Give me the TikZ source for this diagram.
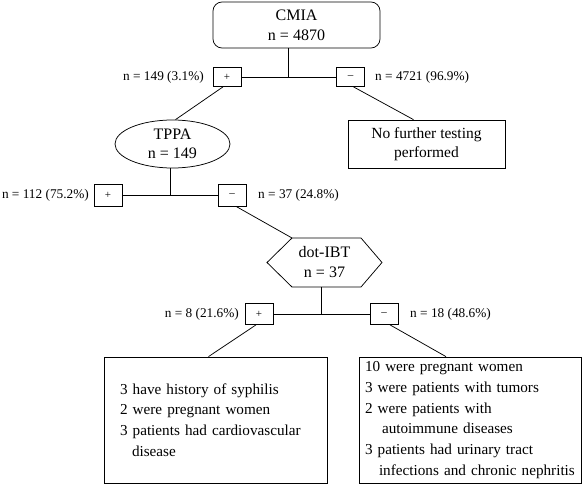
\documentclass[tikz,border=0pt]{standalone}
\usepackage{fontspec}
\setmainfont{Liberation Serif}
\usetikzlibrary{shapes.geometric,calc}
\begin{document}
\begin{tikzpicture}[x=1pt,y=-1pt,
  ln/.style={line width=0.75pt, draw=black},
  title/.style={font=\fontsize{16}{20}\selectfont, align=center, draw, line width=0.75pt, inner sep=0pt},
  sgn/.style={draw, line width=0.75pt, minimum width=28pt, minimum height=21pt, inner sep=0pt, font=\fontsize{11}{12}\selectfont},
  lab/.style={font=\fontsize{13.3}{15}\selectfont, inner sep=0pt},
  res/.style={draw, line width=0.75pt, align=left, font=\fontsize{15.2}{20.7}\selectfont, minimum height=126pt, inner ysep=0pt}]
\useasboundingbox (0,0) rectangle (582,484);

% level 1
\node[title, rounded corners=9pt, minimum width=167pt, minimum height=46pt] (cmia) at (296.5,25) {CMIA\\n = 4870};
\node[sgn, minimum height=19pt] (p1) at (227,77) {+};
\node[sgn, minimum height=19pt] (m1) at (350.5,77) {--};
\node[lab, anchor=east] (l1) at (204,77) {n = 149 (3.1\%)};
\node[lab, anchor=west] (r1) at (375,77) {n = 4721 (96.9\%)};

% level 2
\node[title, ellipse, minimum width=115pt, minimum height=48pt, font=\fontsize{16}{19}\selectfont] (tppa) at (172.5,144) {TPPA\\n = 149};
\node[title, font=\fontsize{15.5}{19}\selectfont, minimum width=157pt, minimum height=48pt] (nft) at (426.5,144) {No further testing\\performed};
\node[sgn, minimum height=22pt] (p2) at (108,195) {+};
\node[sgn, minimum height=22pt] (m2) at (232,195) {--};
\node[lab, anchor=east] (l2) at (89,195) {n = 112 (75.2\%)};
\node[lab, anchor=west] (r2) at (258,195) {n = 37 (24.8\%)};

% level 3
\node[font=\fontsize{16}{20}\selectfont, align=center, inner sep=0pt] (dot) at (324.5,262.5) {dot-IBT\\n = 37};
\path (dot.center) ++(-57.5,0) coordinate (hW) ++(25,-24.5) coordinate (hNW) ++(69,0) coordinate (hNE)
  ++(21,24.5) coordinate (hE) ++(-21,24.5) coordinate (hSE) ++(-69,0) coordinate (hSW);
\draw[ln] (hW) -- (hNW) -- (hNE) -- (hE) -- (hSE) -- (hSW) -- cycle;
\node[sgn, minimum height=21pt] (p3) at (259,314) {+};
\node[sgn, minimum height=21pt] (m3) at (384,314) {--};
\node[lab, anchor=east] (l3) at (239,314) {n = 8 (21.6\%)};
\node[lab, anchor=west] (r3) at (410,314) {n = 18 (48.6\%)};

% results
\node[res, text width=191pt, inner xsep=16pt] (lb) at (215.5,420) {3 have history of syphilis\\2 were pregnant women\\3 patients had cardiovascular\\\hspace*{12pt}disease};
\node[res, text width=210pt, inner xsep=6pt] (rb) at (470,420) {10 were pregnant women\\3 were patients with tumors\\2 were patients with\\\hspace*{17pt}autoimmune diseases\\3 patients had urinary tract\\\hspace*{14pt}infections and chronic nephritis};

% connectors
\coordinate (j1) at ($(p1.east)!0.5!(m1.west)$);
\draw[ln] (p1) -- (m1);
\draw[ln] (j1) -- (j1 |- cmia.south);
\draw[ln] ([xshift=-4pt]p1.south) -- ([xshift=3pt]tppa.north);
\draw[ln] ([xshift=3pt]m1.south) -- ([xshift=-13pt]nft.north);

\coordinate (j2) at ($(p2.east)!0.5!(m2.west)$);
\draw[ln] (p2) -- (m2);
\draw[ln] (j2) -- (j2 |- tppa.south);
\draw[ln] ([xshift=4pt]m2.south) -- (hNW);

\coordinate (j3) at ($(p3.east)!0.5!(m3.west)$);
\draw[ln] (p3) -- (m3);
\draw[ln] (j3) -- (j3 |- hSW);
\draw[ln] ([xshift=-3pt]p3.south) -- ([xshift=-7pt]lb.north);
\draw[ln] ([xshift=6pt]m3.south) -- ([xshift=-24pt]rb.north);
\end{tikzpicture}
\end{document}
